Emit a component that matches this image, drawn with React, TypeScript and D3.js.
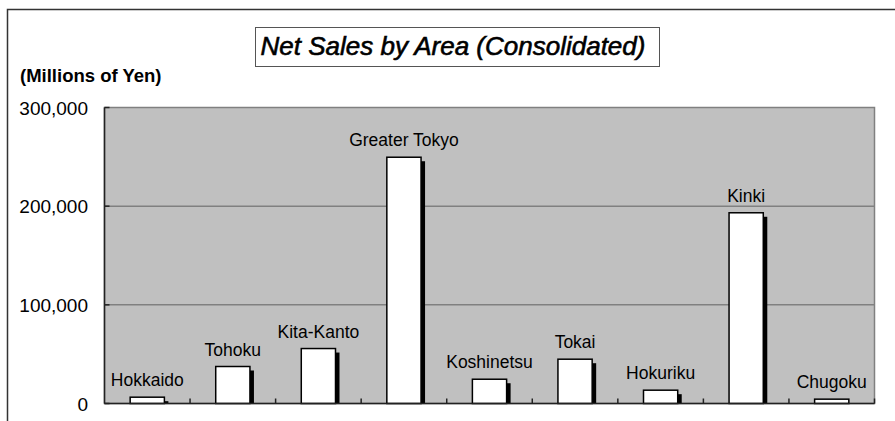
import React from "react";
import * as d3 from "d3";

const categories = ["Hokkaido", "Tohoku", "Kita-Kanto", "Greater Tokyo", "Koshinetsu", "Tokai", "Hokuriku", "Kinki", "Chugoku"];
const sales = [6400, 37500, 55700, 249600, 24600, 44900, 13500, 193300, 4400];
const yTicks = [0, 100000, 200000, 300000];
const titleText = "Net Sales by Area (Consolidated)";
const unitText = "(Millions of Yen)";

const W = 895, H = 421;
const plot = { left: 104.5, right: 874.5, top: 107.5, bottom: 403.5 };
const FONT = "'Liberation Sans', Arial, sans-serif";

export default function App() {
  const x = d3.scaleBand<string>().domain(categories).range([plot.left, plot.right]).paddingInner(0.6).paddingOuter(0.3);
  const xs = d3.scaleBand<string>().domain(categories).range([plot.left, plot.right]).padding(0);
  const y = d3.scaleLinear().domain([0, 300000]).range([plot.bottom, plot.top]);
  const fmt = d3.format(",");
  const off = 4;
  return (
    <div style={{ position: "absolute", left: 0, top: 0, width: W, height: H, background: "#fff" }}>
      <svg width={W} height={H} style={{ display: "block" }}>
        <rect x={7.5} y={9.5} width={W} height={H} fill="#fff" stroke="#333" strokeWidth={1.5} />
        <rect x={255.5} y={27.5} width={404} height={39} fill="#fff" stroke="#555" strokeWidth={1} />
        <text x={453} y={55} textAnchor="middle" fontFamily={FONT} fontStyle="italic" fontSize={26} fill="#000" stroke="#000" strokeWidth={0.6}>{titleText}</text>
        <text x={20} y={82} fontFamily={FONT} fontWeight="bold" fontSize={18.5} fill="#000">{unitText}</text>
        <rect x={plot.left} y={plot.top} width={plot.right - plot.left} height={plot.bottom - plot.top} fill="#c0c0c0" stroke="#808080" strokeWidth={1.5} />
        {yTicks.filter(t => t > 0 && t < 300000).map(t => (
          <line key={"g" + t} x1={plot.left} x2={plot.right} y1={y(t)} y2={y(t)} stroke="#808080" strokeWidth={1.5} />
        ))}
        {yTicks.map(t => (
          <g key={"t" + t}>
            <line x1={plot.left} x2={plot.left + 5} y1={y(t)} y2={y(t)} stroke="#222" strokeWidth={1.5} />
            <text x={88} y={y(t) + 7} textAnchor="end" fontFamily={FONT} fontSize={19} fill="#000">{fmt(t)}</text>
          </g>
        ))}
        {categories.slice(1).map(c => (
          <line key={"xt" + c} x1={xs(c)!} x2={xs(c)!} y1={plot.bottom} y2={plot.bottom - 5} stroke="#222" strokeWidth={1.5} />
        ))}
        <line x1={plot.right} x2={plot.right} y1={plot.bottom} y2={plot.bottom - 5} stroke="#222" strokeWidth={1.5} />
        {categories.map((c, i) => {
          const bx = x(c)!;
          const bw = x.bandwidth();
          const by = y(sales[i]);
          const bh = plot.bottom - by;
          return (
            <g key={c}>
              {bh > off && <rect x={bx + off} y={by + off} width={bw} height={bh - off} fill="#000" />}
              <rect x={bx} y={by} width={bw} height={bh} fill="#fff" stroke="#000" strokeWidth={1.5} />
              <text x={bx + bw / 2} y={by - 11} textAnchor="middle" fontFamily={FONT} fontSize={17.5} fill="#000">{c}</text>
            </g>
          );
        })}
        <line x1={plot.left} x2={plot.left} y1={plot.top} y2={plot.bottom} stroke="#222" strokeWidth={1.5} />
        <line x1={plot.left} x2={plot.right} y1={plot.bottom} y2={plot.bottom} stroke="#222" strokeWidth={1.5} />
      </svg>
    </div>
  );
}
